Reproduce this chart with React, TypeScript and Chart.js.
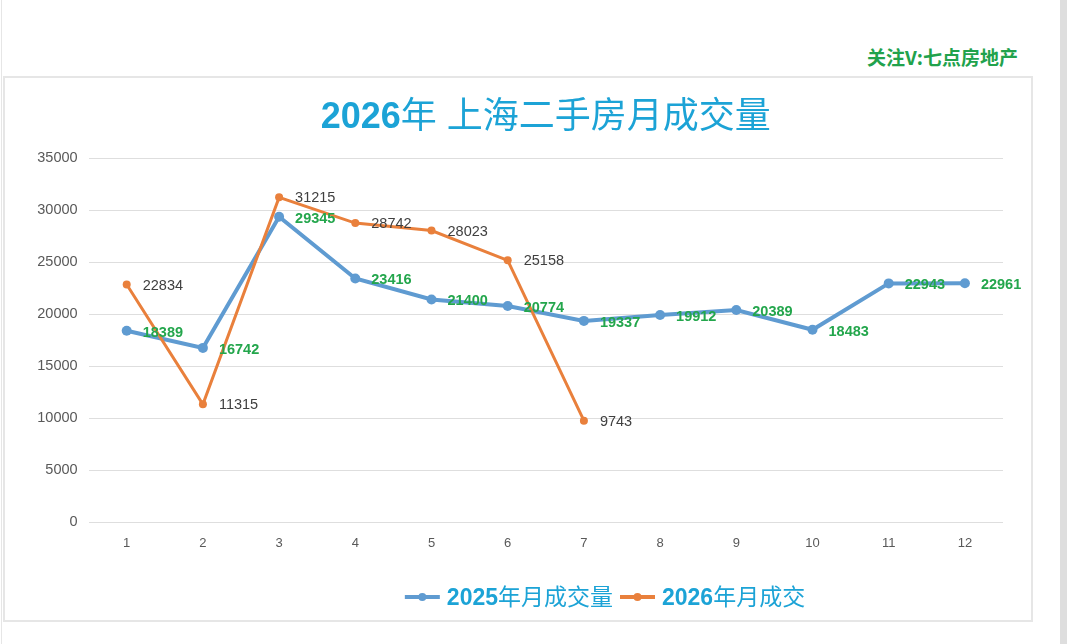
import { useEffect, useRef } from 'react';
import { Chart, registerables } from 'chart.js';

Chart.register(...registerables);

const months = ['1', '2', '3', '4', '5', '6', '7', '8', '9', '10', '11', '12'];
const sales2025 = [18389, 16742, 29345, 23416, 21400, 20774, 19337, 19912, 20389, 18483, 22943, 22961];
const sales2026 = [22834, 11315, 31215, 28742, 28023, 25158, 9743];
const seriesNames = ['2025年月成交量', '2026年月成交'];
const titleText = '2026年 上海二手房月成交量';
const watermark = '关注V:七点房地产';
const yMin = 0;
const yMax = 35000;
const yStep = 5000;

const BLUE = '#5f9bd1';
const ORANGE = '#e9803c';
const GREEN = '#23a64c';
const TITLE_BLUE = '#1ca3d6';

const LATIN = "'Liberation Sans', Arial, sans-serif";
const CJK = "'Noto Sans CJK SC', sans-serif";

function splitRuns(text: string) {
  const runs: { t: string; cjk: boolean }[] = [];
  for (const ch of text) {
    const cjk = ch.charCodeAt(0) > 0x2e80;
    const last = runs[runs.length - 1];
    if (last && last.cjk === cjk) last.t += ch;
    else runs.push({ t: ch, cjk });
  }
  return runs;
}

function fontFor(cjk: boolean, size: number) {
  return cjk ? `400 ${size}px ${CJK}` : `bold ${size}px ${LATIN}`;
}

function mixedWidth(ctx: CanvasRenderingContext2D, text: string, size: number) {
  let w = 0;
  for (const r of splitRuns(text)) {
    ctx.font = fontFor(r.cjk, size);
    w += ctx.measureText(r.t).width;
  }
  return w;
}

function drawMixed(ctx: CanvasRenderingContext2D, text: string, size: number, x: number, yMid: number, color: string) {
  ctx.fillStyle = color;
  ctx.textAlign = 'left';
  ctx.textBaseline = 'alphabetic';
  const base = yMid + size * 0.36;
  let cx = x;
  for (const r of splitRuns(text)) {
    ctx.font = fontFor(r.cjk, size);
    ctx.fillText(r.t, cx, base);
    cx += ctx.measureText(r.t).width;
  }
  return cx;
}

const pointLabels = {
  id: 'pointLabels',
  afterDatasetsDraw(chart: any) {
    const ctx: CanvasRenderingContext2D = chart.ctx;
    chart.data.datasets.forEach((ds: any, i: number) => {
      const meta = chart.getDatasetMeta(i);
      meta.data.forEach((pt: any, j: number) => {
        const v = ds.data[j];
        if (v == null) return;
        ctx.save();
        ctx.font = ds.labelBold ? `bold 14.5px ${LATIN}` : `14.5px ${LATIN}`;
        ctx.fillStyle = ds.labelColor;
        ctx.textAlign = 'left';
        ctx.textBaseline = 'middle';
        ctx.fillText(String(v), pt.x + 16, pt.y + (ds.labelBold ? 2 : 1));
        ctx.restore();
      });
    });
  },
};

const titleLegend = {
  id: 'titleLegend',
  afterDraw(chart: any) {
    const ctx: CanvasRenderingContext2D = chart.ctx;
    const area = chart.chartArea;
    ctx.save();
    const tSize = 36;
    const tw = mixedWidth(ctx, titleText, tSize);
    drawMixed(ctx, titleText, tSize, (area.left + area.right) / 2 - tw / 2, 115, TITLE_BLUE);
    const lSize = 23;
    const lineLen = 35;
    const gap = 7;
    const colors = [BLUE, ORANGE];
    let total = 0;
    seriesNames.forEach((n, i) => {
      total += lineLen + gap + mixedWidth(ctx, n, lSize) + (i < seriesNames.length - 1 ? gap : 0);
    });
    let x = 605 - total / 2;
    const y = 597;
    seriesNames.forEach((n, i) => {
      ctx.strokeStyle = colors[i];
      ctx.lineWidth = 4;
      ctx.beginPath();
      ctx.moveTo(x, y);
      ctx.lineTo(x + lineLen, y);
      ctx.stroke();
      ctx.fillStyle = colors[i];
      ctx.beginPath();
      ctx.arc(x + lineLen / 2, y, 4, 0, Math.PI * 2);
      ctx.fill();
      x += lineLen + gap;
      x = drawMixed(ctx, n, lSize, x, y, TITLE_BLUE);
      x += gap;
    });
    ctx.restore();
  },
};

export default function App() {
  const ref = useRef<HTMLCanvasElement>(null);

  useEffect(() => {
    document.body.style.margin = '0';
    const canvas = ref.current;
    if (!canvas) return;
    const chart = new Chart(canvas, {
      type: 'line',
      data: {
        labels: months,
        datasets: [
          {
            label: seriesNames[1],
            data: sales2026,
            borderColor: ORANGE,
            backgroundColor: ORANGE,
            pointBackgroundColor: ORANGE,
            pointBorderColor: ORANGE,
            borderWidth: 3,
            pointRadius: 4,
            pointBorderWidth: 0,
            tension: 0,
            order: 0,
            labelColor: '#404040',
            labelBold: false,
          } as any,
          {
            label: seriesNames[0],
            data: sales2025,
            borderColor: BLUE,
            backgroundColor: BLUE,
            pointBackgroundColor: BLUE,
            pointBorderColor: BLUE,
            borderWidth: 4,
            pointRadius: 5,
            pointBorderWidth: 0,
            tension: 0,
            order: 1,
            labelColor: GREEN,
            labelBold: true,
          } as any,
        ],
      },
      options: {
        responsive: false,
        maintainAspectRatio: false,
        animation: false,
        layout: { padding: { left: 0, right: 77, top: 158, bottom: 0 } },
        plugins: {
          legend: { display: false },
          title: { display: false },
          tooltip: { enabled: false },
        },
        scales: {
          x: {
            offset: true,
            grid: { display: false, drawTicks: false },
            border: { display: false },
            ticks: { color: '#595959', font: { family: LATIN, size: 13 }, padding: 14 },
            afterFit: (s: any) => {
              s.height = 122;
            },
          },
          y: {
            min: yMin,
            max: yMax,
            grid: { color: '#dedede', lineWidth: 1, drawTicks: false },
            border: { display: false },
            ticks: {
              stepSize: yStep,
              color: '#595959',
              font: { family: LATIN, size: 14.5 },
              padding: 11,
              callback: (v: any) => String(v),
            },
            afterFit: (s: any) => {
              s.width = 88.6;
            },
          },
        },
      },
      plugins: [pointLabels, titleLegend],
    });
    return () => chart.destroy();
  }, []);

  return (
    <div style={{ position: 'relative', width: 1080, height: 644, background: '#fff', overflow: 'hidden' }}>
      <div style={{ position: 'absolute', left: 1, top: 0, width: 1, height: 644, background: '#e6e6e6' }} />
      <div style={{ position: 'absolute', left: 1060, top: 0, width: 7, height: 644, background: '#dedede' }} />
      <div
        style={{
          position: 'absolute',
          left: 3,
          top: 76,
          width: 1026,
          height: 542,
          border: '2px solid #e6e6e6',
        }}
      />
      <div
        style={{
          position: 'absolute',
          right: 1080 - 1018,
          top: 45,
          fontFamily: CJK,
          fontWeight: 'bold',
          fontSize: 19,
          lineHeight: '24px',
          color: '#21a24c',
          whiteSpace: 'nowrap',
        }}
      >
        {watermark}
      </div>
      <canvas ref={ref} width={1080} height={644} style={{ position: 'absolute', left: 0, top: 0, display: 'block' }} />
    </div>
  );
}
